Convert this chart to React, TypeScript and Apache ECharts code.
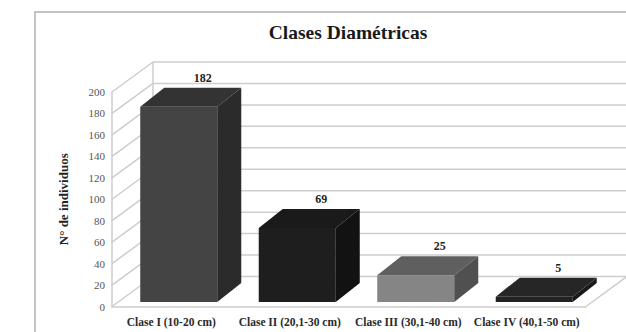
import React, { useEffect, useRef } from "react";
import * as echarts from "echarts";

const titleText = "Clases Diamétricas";
const yAxisTitle = "N° de individuos";
const categories = [
  "Clase I (10-20 cm)",
  "Clase II (20,1-30 cm)",
  "Clase III (30,1-40 cm)",
  "Clase IV (40,1-50 cm)",
];
const values = [182, 69, 25, 5];
const yTicks = [0, 20, 40, 60, 80, 100, 120, 140, 160, 180, 200];

// face colours per bar: [front, top, side]
const faceColors = [
  ["#444444", "#333333", "#2b2b2b"],
  ["#1e1e1e", "#1a1a1a", "#121212"],
  ["#858585", "#5f5f5f", "#505050"],
  ["#232323", "#262626", "#1a1a1a"],
];

const FONT = "Liberation Serif";
const WALL_DX = 41;
const WALL_DY = -30;
const BAR_OX = 7.5;
const BAR_OY = -4.5;
const BAR_DX = 24;
const BAR_DY = -19;
const GRID_COLOR = "#cdcdcd";

export default function App() {
  const ref = useRef<HTMLDivElement>(null);
  useEffect(() => {
    if (!ref.current) return;
    const chart = echarts.init(ref.current, null, { renderer: "svg" });
    const option: any = {
      animation: false,
      backgroundColor: "#ffffff",
      textStyle: { fontFamily: FONT },
      title: {
        text: titleText,
        left: 343,
        top: 17,
        textAlign: "center",
        textStyle: { fontFamily: FONT, fontSize: 19.5, fontWeight: "bold", color: "#1a1a1a" },
      },
      graphic: [
        {
          type: "rect",
          shape: { x: 35, y: 12, width: 700, height: 400 },
          style: { fill: "none", stroke: "#c4c4c4", lineWidth: 2 },
          z: 0,
        },
      ],
      grid: { left: 112, top: 92, width: 474, height: 214.5 },
      xAxis: {
        type: "category",
        data: categories,
        axisLine: { show: true, lineStyle: { color: GRID_COLOR, width: 1.5 } },
        axisTick: { show: false },
        axisLabel: {
          margin: 9,
          fontFamily: FONT,
          fontSize: 11.5,
          fontWeight: "bold",
          color: "#2a2a2a",
          interval: 0,
        },
        splitLine: { show: false },
      },
      yAxis: {
        type: "value",
        min: 0,
        max: 200,
        interval: 20,
        name: yAxisTitle,
        nameLocation: "middle",
        nameRotate: 90,
        nameGap: 42,
        nameTextStyle: { fontFamily: FONT, fontSize: 13, fontWeight: "bold", color: "#222" },
        axisLine: { show: true, lineStyle: { color: GRID_COLOR, width: 1.5 } },
        axisTick: { show: false },
        axisLabel: { margin: 7, fontFamily: FONT, fontSize: 11, color: "#555" },
        splitLine: { show: false },
      },
      series: [
        {
          type: "custom",
          clip: false,
          z: 1,
          data: yTicks.map((v) => [0, v]),
          renderItem: (params: any, api: any) => {
            const cs = params.coordSys;
            const v = api.value(1);
            const y = api.coord([0, v])[1];
            const x0 = cs.x;
            const children: any[] = [
              {
                type: "line",
                shape: { x1: x0, y1: y, x2: x0 + WALL_DX, y2: y + WALL_DY },
                style: { stroke: GRID_COLOR, lineWidth: 1.5 },
              },
              {
                type: "line",
                shape: { x1: x0 + WALL_DX, y1: y + WALL_DY, x2: x0 + cs.width + WALL_DX + 60, y2: y + WALL_DY },
                style: { stroke: GRID_COLOR, lineWidth: 1.5 },
              },
            ];
            if (params.dataIndex === 0) {
              const yTop = api.coord([0, yTicks[yTicks.length - 1]])[1];
              children.push({
                type: "line",
                shape: { x1: x0 + WALL_DX, y1: y + WALL_DY, x2: x0 + WALL_DX, y2: yTop + WALL_DY },
                style: { stroke: GRID_COLOR, lineWidth: 1.5 },
              });
              children.push({
                type: "line",
                shape: { x1: x0 + cs.width, y1: y, x2: x0 + cs.width + WALL_DX, y2: y + WALL_DY },
                style: { stroke: GRID_COLOR, lineWidth: 1.5 },
              });
            }
            return { type: "group", children };
          },
        },
        {
          type: "custom",
          clip: false,
          z: 5,
          data: values.map((v, i) => [i, v]),
          renderItem: (params: any, api: any) => {
            const i = api.value(0);
            const v = api.value(1);
            const base = api.coord([i, 0]);
            const top = api.coord([i, v]);
            const band = api.size([1, 0])[0];
            const w = band * 0.65;
            const L = base[0] + BAR_OX - w / 2;
            const R = L + w;
            const B = base[1] + BAR_OY;
            const T = top[1] + BAR_OY;
            const c = faceColors[params.dataIndex];
            return {
              type: "group",
              children: [
                {
                  type: "polygon",
                  shape: { points: [[L, B], [L, T], [R, T], [R, B]] },
                  style: { fill: c[0] },
                },
                {
                  type: "polygon",
                  shape: { points: [[L, T], [L + BAR_DX, T + BAR_DY], [R + BAR_DX, T + BAR_DY], [R, T]] },
                  style: { fill: c[1] },
                },
                {
                  type: "polygon",
                  shape: { points: [[R, T], [R + BAR_DX, T + BAR_DY], [R + BAR_DX, B + BAR_DY], [R, B]] },
                  style: { fill: c[2] },
                },
                {
                  type: "text",
                  x: (L + R) / 2 + BAR_DX,
                  y: T + BAR_DY - 10,
                  style: {
                    text: String(v),
                    fontFamily: FONT,
                    fontSize: 12,
                    fontWeight: "bold",
                    fill: "#222",
                    align: "center",
                    verticalAlign: "middle",
                  },
                },
              ],
            };
          },
        },
      ],
    };
    chart.setOption(option);
    return () => chart.dispose();
  }, []);
  return (
    <div
      ref={ref}
      style={{ position: "fixed", left: 0, top: 0, width: 626, height: 332 }}
    />
  );
}
